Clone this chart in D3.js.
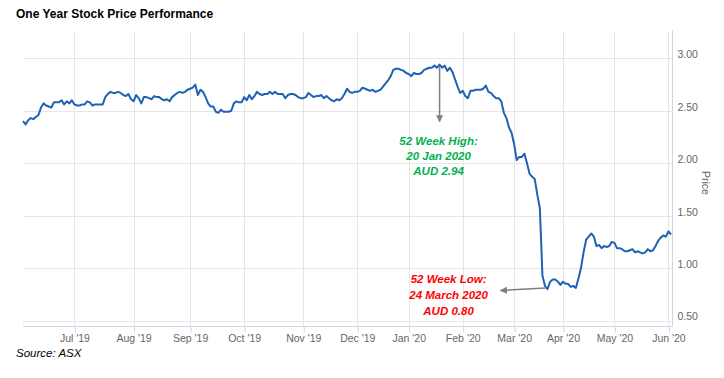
<!DOCTYPE html>
<html>
<head>
<meta charset="utf-8">
<script src="https://cdn.jsdelivr.net/npm/d3@7"></script>
<style>
  body { margin: 0; background: #fff; }
  #chart { width: 724px; height: 378px; }
  text { font-family: "Liberation Sans", Arial, sans-serif; }
</style>
</head>
<body>
<div id="chart"></div>
<script>
// closing price per trading day, Jun 2019 - Jun 2020
const prices = [
  2.40, 2.37, 2.41, 2.43, 2.42, 2.44, 2.46, 2.53, 2.57, 2.55,
  2.54, 2.53, 2.58, 2.58, 2.58, 2.60, 2.56, 2.59, 2.57, 2.60,
  2.56, 2.55, 2.55, 2.56, 2.56, 2.59, 2.58, 2.55, 2.56, 2.56,
  2.56, 2.56, 2.63, 2.66, 2.68, 2.67, 2.67, 2.68, 2.67, 2.65,
  2.64, 2.66, 2.61, 2.59, 2.65, 2.62, 2.57, 2.63, 2.63, 2.62,
  2.61, 2.64, 2.63, 2.63, 2.61, 2.60, 2.61, 2.59, 2.63, 2.65,
  2.67, 2.68, 2.67, 2.68, 2.70, 2.71, 2.72, 2.75, 2.65, 2.70,
  2.68, 2.63, 2.57, 2.54, 2.54, 2.49, 2.48, 2.51, 2.49, 2.49,
  2.49, 2.50, 2.57, 2.59, 2.58, 2.58, 2.63, 2.60, 2.65, 2.61,
  2.64, 2.68, 2.66, 2.65, 2.66, 2.66, 2.68, 2.66, 2.68, 2.66,
  2.66, 2.66, 2.62, 2.65, 2.66, 2.66, 2.65, 2.63, 2.62, 2.62,
  2.63, 2.67, 2.65, 2.63, 2.64, 2.64, 2.65, 2.62, 2.64, 2.62,
  2.60, 2.59, 2.61, 2.60, 2.62, 2.66, 2.71, 2.68, 2.67, 2.68,
  2.68, 2.69, 2.72, 2.71, 2.70, 2.69, 2.70, 2.68, 2.69, 2.70,
  2.73, 2.76, 2.79, 2.83, 2.89, 2.90, 2.90, 2.89, 2.88, 2.86,
  2.85, 2.83, 2.86, 2.85, 2.85, 2.86, 2.89, 2.90, 2.91, 2.91,
  2.93, 2.91, 2.94, 2.91, 2.93, 2.88, 2.91, 2.87, 2.80, 2.73,
  2.67, 2.69, 2.64, 2.62, 2.69, 2.69, 2.70, 2.70, 2.70, 2.71,
  2.74, 2.68, 2.67, 2.64, 2.62, 2.62, 2.59, 2.48, 2.43, 2.34,
  2.29, 2.18, 2.03, 2.06, 2.06, 2.09, 2.00, 1.90, 1.87, 1.85,
  1.70, 1.57, 0.93, 0.83, 0.80, 0.87, 0.89, 0.89, 0.87, 0.84,
  0.87, 0.85, 0.85, 0.82, 0.83, 0.81, 0.90, 1.00, 1.15, 1.27,
  1.30, 1.33, 1.30, 1.21, 1.22, 1.19, 1.21, 1.20, 1.21, 1.25,
  1.24, 1.19, 1.19, 1.18, 1.16, 1.16, 1.17, 1.18, 1.15, 1.16,
  1.15, 1.14, 1.15, 1.18, 1.16, 1.17, 1.21, 1.26, 1.29, 1.31,
  1.30, 1.35, 1.32
];

// month ticks: label and trading-day index of first session
const monthLabels = ["Jul '19", "Aug '19", "Sep '19", "Oct '19", "Nov '19", "Dec '19",
                     "Jan '20", "Feb '20", "Mar '20", "Apr '20", "May '20", "Jun '20"];
const monthDays = [20, 43, 65, 86, 109, 130, 150, 171, 191, 210, 230, 251];

const priceTicks = [0.5, 1.0, 1.5, 2.0, 2.5, 3.0];

const highText = ["52 Week High:", "20 Jan 2020", "AUD 2.94"];
const lowText = ["52 Week Low:", "24 March 2020", "AUD 0.80"];

const W = 724, H = 378;
const plot = { left: 23, right: 672, top: 32, bottom: 326 };

const svg = d3.select("#chart").append("svg").attr("width", W).attr("height", H);

const x = d3.scaleLinear().domain([0, prices.length - 1]).range([plot.left, plot.right - 1]);
const y = d3.scaleLinear().domain([0.5, 3.0]).range([320.5, 58.3]);

// grid
svg.append("g").selectAll("line.h")
  .data(priceTicks)
  .join("line")
  .attr("x1", plot.left).attr("x2", plot.right)
  .attr("y1", d => Math.round(y(d)) + 0.5).attr("y2", d => Math.round(y(d)) + 0.5)
  .attr("stroke", "#e6e6e6");

svg.append("g").selectAll("line.v")
  .data(monthDays)
  .join("line")
  .attr("x1", d => Math.round(x(d)) + 0.5).attr("x2", d => Math.round(x(d)) + 0.5)
  .attr("y1", plot.top).attr("y2", plot.bottom)
  .attr("stroke", "#e6e6e6");

// x axis
const xAxis = svg.append("g")
  .attr("transform", `translate(0,${plot.bottom + 0.5})`)
  .call(d3.axisBottom(x)
    .tickValues(monthDays)
    .tickFormat((d, i) => monthLabels[i])
    .tickSize(6)
    .tickSizeOuter(0)
    .tickPadding(2));
xAxis.select(".domain").attr("stroke", "#ccd6eb").attr("d", `M${plot.left},0H${plot.right}`);
xAxis.selectAll(".tick line").attr("stroke", "#ccd6eb").attr("transform", "translate(0.5,0)");
xAxis.selectAll(".tick text").attr("fill", "#666").attr("font-size", 10.5).attr("dy", "0.75em");

// y axis (right)
const yAxis = svg.append("g")
  .attr("transform", `translate(${plot.right + 0.5},0)`)
  .call(d3.axisRight(y).tickValues(priceTicks).tickFormat(d3.format(".2f")).tickSize(0).tickPadding(5));
yAxis.select(".domain").attr("stroke", "#ccd6eb").attr("d", `M0,${plot.top - 2}V${plot.bottom + 1}`);
yAxis.selectAll(".tick text").attr("fill", "#666").attr("font-size", 10.5).attr("dy", "-0.05em");

svg.append("text")
  .attr("transform", `translate(702,${(plot.top + plot.bottom) / 2 + 4}) rotate(90)`)
  .attr("text-anchor", "middle")
  .attr("fill", "#666")
  .attr("font-size", 10.5)
  .text("Price");

// price line
const line = d3.line().x((d, i) => x(i)).y(d => y(d));
svg.append("path")
  .datum(prices)
  .attr("d", line)
  .attr("fill", "none")
  .attr("stroke", "#1f62b5")
  .attr("stroke-width", 2)
  .attr("stroke-linejoin", "round");

// annotations
const defs = svg.append("defs");
defs.append("marker")
  .attr("id", "arrow")
  .attr("viewBox", "0 0 10 10")
  .attr("refX", 9).attr("refY", 5)
  .attr("markerWidth", 7).attr("markerHeight", 7)
  .attr("markerUnits", "userSpaceOnUse")
  .attr("orient", "auto")
  .append("path").attr("d", "M0,0L10,5L0,10Z").attr("fill", "#7f7f7f");

const hi = d3.maxIndex(prices), lo = d3.minIndex(prices);

svg.append("line")
  .attr("x1", x(hi)).attr("y1", y(prices[hi]) + 2)
  .attr("x2", x(hi)).attr("y2", y(prices[hi]) + 57)
  .attr("stroke", "#7f7f7f").attr("stroke-width", 1.5)
  .attr("marker-end", "url(#arrow)");

svg.append("line")
  .attr("x1", x(lo) - 2).attr("y1", y(prices[lo]) - 1)
  .attr("x2", x(lo) - 47).attr("y2", y(prices[lo]) + 1.5)
  .attr("stroke", "#7f7f7f").attr("stroke-width", 1.5)
  .attr("marker-end", "url(#arrow)");

svg.append("g").selectAll("text")
  .data(highText)
  .join("text")
  .attr("x", x(hi) - 1).attr("y", (d, i) => y(prices[hi]) + 80 + i * 15)
  .attr("text-anchor", "middle")
  .attr("font-size", 11.5).attr("font-weight", "bold").attr("font-style", "italic")
  .attr("fill", "#00b050")
  .text(d => d);

svg.append("g").selectAll("text")
  .data(lowText)
  .join("text")
  .attr("x", x(lo) - 99).attr("y", (d, i) => y(prices[lo]) - 6 + i * 16)
  .attr("text-anchor", "middle")
  .attr("font-size", 11.5).attr("font-weight", "bold").attr("font-style", "italic")
  .attr("fill", "#ff0000")
  .text(d => d);

// title + source
svg.append("text")
  .attr("x", 16).attr("y", 18)
  .attr("font-size", 12).attr("font-weight", "bold")
  .attr("fill", "#000")
  .text("One Year Stock Price Performance");

svg.append("text")
  .attr("x", 16).attr("y", 357)
  .attr("font-size", 11.5).attr("font-style", "italic")
  .attr("fill", "#000")
  .text("Source: ASX");
</script>
</body>
</html>
